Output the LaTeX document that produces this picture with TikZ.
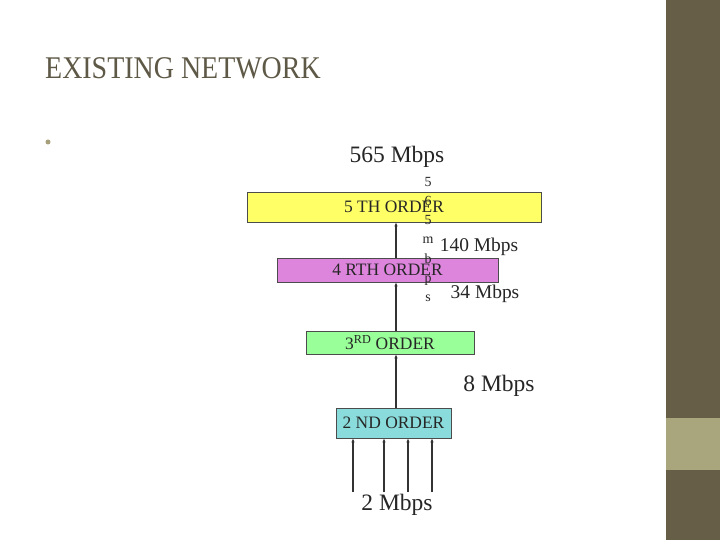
\documentclass[tikz,border=0pt]{standalone}
\usepackage{fontspec}
\setmainfont{Liberation Serif}
\usetikzlibrary{arrows.meta, positioning, calc}
\definecolor{nwtitle}{HTML}{5E5846}
\definecolor{nwbar}{HTML}{675E48}
\definecolor{nwbarlight}{HTML}{A9A57D}
\definecolor{nwbullet}{HTML}{A8A07C}
\definecolor{nwyellow}{HTML}{FFFF66}
\definecolor{nwviolet}{HTML}{DD85DD}
\definecolor{nwgreen}{HTML}{99FF99}
\definecolor{nwcyan}{HTML}{8ADCDC}
\definecolor{nwline}{HTML}{333333}
\newcommand{\fsz}[1]{\fontsize{#1}{1.2\dimexpr#1pt\relax}\selectfont}

\begin{document}
\begin{tikzpicture}[
  x=1bp, y=-1bp,
  every node/.style={font=\fsz{17.5}, text=black!85},
  stage/.style={rectangle, draw=black!70, line width=0.8bp, inner sep=0pt, align=center},
  rate/.style={font=\fsz{19.5}, inner sep=0pt},
  bigrate/.style={font=\fsz{23.6}, inner sep=0pt},
  conn/.style={draw=nwline, line width=1.9bp, -{Latex[length=4bp, width=3.5bp]}},
]
\useasboundingbox (0,0) rectangle (720,540);
\fill[white] (0,0) rectangle (720,540);
% side bar
\fill[nwbar] (666,0) rectangle (720,540);
\fill[nwbarlight] (666,418) rectangle (720,470);
% title and bullet
\node[font=\fsz{31.7}, text=nwtitle, anchor=base west, xscale=0.885, transform shape, inner sep=0pt] (title) at (45,79) {EXISTING NETWORK};
\fill[nwbullet] (48,142) circle (2.5);
% multiplexer stages
\node[stage, fill=nwyellow, minimum width=294bp, minimum height=30bp] (fifth) at (394,207) {5 TH ORDER};
\node[stage, fill=nwviolet, minimum width=221bp, minimum height=24bp] (fourth) at (387.5,270) {4 RTH ORDER};
\node[stage, fill=nwgreen, minimum width=168bp, minimum height=23bp] (third) at (390,342.5) {3\textsuperscript{RD} ORDER};
\node[stage, fill=nwcyan, minimum width=115bp, minimum height=30bp] (second) at (393.5,423) {2 ND ORDER};
% links
\coordinate (spine) at (396,0);
\draw[conn] (second.north -| spine) -- (third.south -| spine);
\draw[conn] (third.north -| spine) -- (fourth.south -| spine);
\draw[conn] (fourth.north -| spine) -- (fifth.south -| spine);
\foreach \i/\x in {1/353, 2/384, 3/408, 4/432} {
  \coordinate (in\i) at (\x,492);
  \draw[conn] (in\i) -- (in\i |- second.south);
}
% rates
\node[bigrate] (r565) at (397,157) {565 Mbps};
\node[rate] (r140) at (479,247) {140 Mbps};
\node[rate] (r34) at (485,294) {34 Mbps};
\node[bigrate] (r8) at (499,386) {8 Mbps};
\node[bigrate] (r2) at (397,505) {2 Mbps};
\node[font=\fontsize{14}{19.3}\selectfont, align=center, inner sep=0pt] (r565v) at (428,239.5) {5\\6\\5\\m\\b\\p\\s};
\end{tikzpicture}
\end{document}
